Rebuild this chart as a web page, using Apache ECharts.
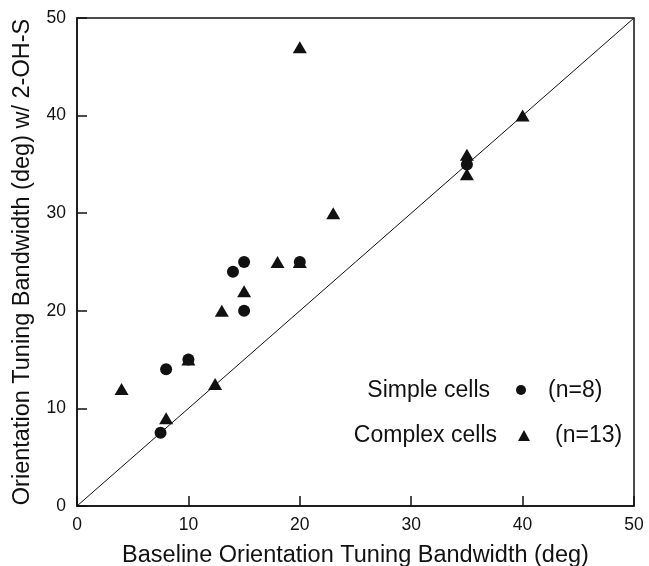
<!DOCTYPE html>
<html>
<head>
<meta charset="utf-8">
<script src="https://cdn.jsdelivr.net/npm/echarts@6/dist/echarts.min.js"></script>
<style>
  html, body { margin: 0; padding: 0; background: #fff; }
  #chart { width: 649px; height: 566px; }
</style>
</head>
<body>
<div id="chart"></div>
<script>
// Simple cells (circles): [baseline, with 2-OH-S]
const simpleCells = [
  [7.5, 7.5], [8, 14], [10, 15], [14, 24],
  [15, 25], [15, 20], [20, 25], [35, 35]
];
// Complex cells (triangles)
const complexCells = [
  [4, 12], [8, 9], [10, 15], [12.4, 12.5], [13, 20], [15, 22], [18, 25],
  [20, 25], [20, 47], [23, 30], [35, 36], [35, 34], [40, 40]
];
// unity line
const unityLine = [[0, 0], [50, 50]];
const legendNames = ['Simple cells', 'Complex cells'];
const legendCounts = ['(n=8)', '(n=13)'];

const ink = '#111';
const fontFamily = "'Liberation Sans', Arial, Helvetica, sans-serif";

const axisCommon = {
  type: 'value',
  min: 0,
  max: 50,
  interval: 10,
  nameLocation: 'middle',
  nameTextStyle: { fontSize: 23.5, color: ink, fontFamily },
  axisLine: { lineStyle: { color: ink, width: 1.5 } },
  axisTick: { inside: true, length: 10, lineStyle: { color: ink, width: 1.5 } },
  axisLabel: { fontSize: 17.5, color: ink, fontFamily },
  splitLine: { show: false }
};

const chart = echarts.init(document.getElementById('chart'));

chart.setOption({
  animation: false,
  backgroundColor: '#fff',
  grid: {
    left: 77, right: 15, top: 18, bottom: 60,
    outerBoundsMode: 'none',
    show: true, borderColor: ink, borderWidth: 1.5
  },
  xAxis: Object.assign({}, axisCommon, {
    name: 'Baseline Orientation Tuning Bandwidth (deg)',
    nameGap: 38,
    axisLabel: Object.assign({}, axisCommon.axisLabel, { margin: 10 })
  }),
  yAxis: Object.assign({}, axisCommon, {
    name: 'Orientation Tuning Bandwidth (deg) w/ 2-OH-S',
    nameGap: 42,
    axisLabel: Object.assign({}, axisCommon.axisLabel, { margin: 11 })
  }),
  series: [
    {
      type: 'line',
      data: unityLine,
      symbol: 'none',
      silent: true,
      lineStyle: { color: ink, width: 1 }
    },
    {
      name: legendNames[0],
      type: 'scatter',
      data: simpleCells,
      symbol: 'circle',
      symbolSize: 12,
      itemStyle: { color: ink, opacity: 1 }
    },
    {
      name: legendNames[1],
      type: 'scatter',
      data: complexCells,
      symbol: 'triangle',
      symbolSize: [14, 12],
      itemStyle: { color: ink, opacity: 1 }
    }
  ],
  // legend drawn by hand: name, marker, then count
  graphic: [
    { type: 'text', style: { text: legendNames[0], x: 490, y: 391, align: 'right', verticalAlign: 'middle', font: '23px ' + fontFamily, fill: ink } },
    { type: 'circle', shape: { cx: 521, cy: 390, r: 5 }, style: { fill: ink } },
    { type: 'text', style: { text: legendCounts[0], x: 548, y: 391, align: 'left', verticalAlign: 'middle', font: '23px ' + fontFamily, fill: ink } },
    { type: 'text', style: { text: legendNames[1], x: 497, y: 436, align: 'right', verticalAlign: 'middle', font: '23px ' + fontFamily, fill: ink } },
    { type: 'polygon', shape: { points: [[524, 430], [530, 441], [518, 441]] }, style: { fill: ink } },
    { type: 'text', style: { text: legendCounts[1], x: 555, y: 436, align: 'left', verticalAlign: 'middle', font: '23px ' + fontFamily, fill: ink } }
  ]
});
</script>
</body>
</html>
